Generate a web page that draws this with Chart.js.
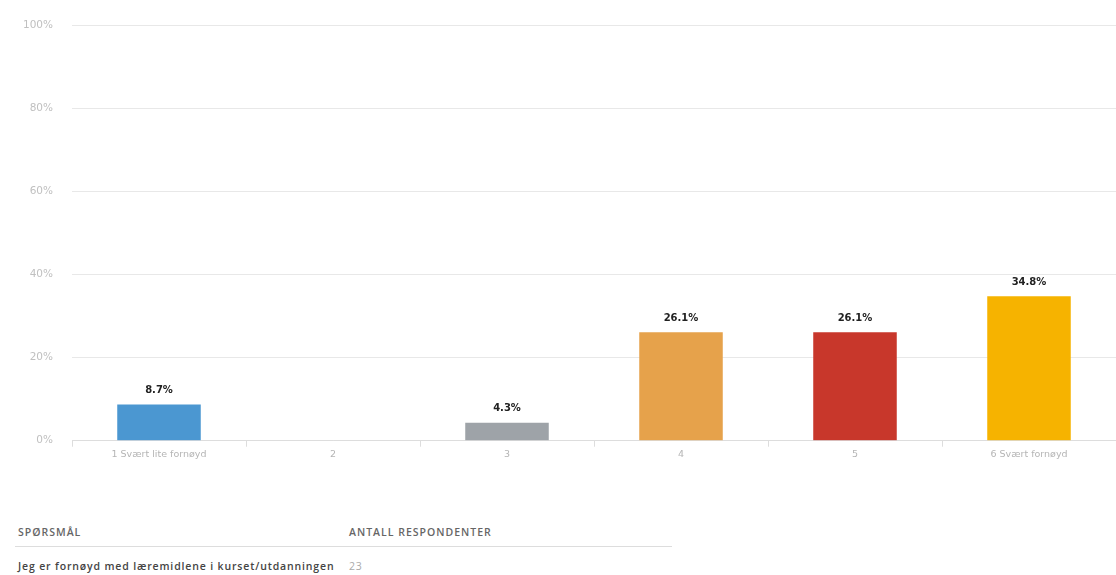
<!DOCTYPE html>
<html>
<head>
<meta charset="utf-8">
<script src="https://cdn.jsdelivr.net/npm/chart.js@4/dist/chart.umd.min.js"></script>
<style>
    body { margin: 0; background: #fff; font-family: "Open Sans", sans-serif; }
    #wrap { position: absolute; left: 0; top: 0; width: 1116px; height: 466px; }
    table { position: absolute; left: 15px; top: 521px; border-collapse: collapse; font-size: 10.5px; }
    th { text-align: left; font-weight: 600; color: #666; letter-spacing: 1px; padding: 4px 3px 7px 3px; border-bottom: 1px solid #ddd; }
    td { padding: 12px 3px 4px 3px; color: #444; font-weight: 600; letter-spacing: 0.85px; }
    td.num { color: #aaa; font-weight: 400; }
</style>
</head>
<body>
<div id="wrap"><canvas id="chart"></canvas></div>
<table>
    <tr><th style="width:325px">SPØRSMÅL</th><th style="width:320px">ANTALL RESPONDENTER</th></tr>
    <tr><td>Jeg er fornøyd med læremidlene i kurset/utdanningen</td><td class="num">23</td></tr>
</table>
<script>
// Data
const categories = ['1 Svært lite fornøyd', '2', '3', '4', '5', '6 Svært fornøyd'];
const values = [8.7, 0, 4.3, 26.1, 26.1, 34.8];
const barColors = ['#4b97d1', '#9aa0a6', '#9ea3a8', '#e6a24b', '#c8372b', '#f6b300'];

// Draw the value above each bar (skip empty ones)
const valueLabels = {
    id: 'valueLabels',
    afterDatasetsDraw(chart) {
        const ctx = chart.ctx;
        const meta = chart.getDatasetMeta(0);
        ctx.save();
        ctx.font = 'bold 10px "DejaVu Sans", sans-serif';
        ctx.fillStyle = '#222';
        ctx.textAlign = 'center';
        ctx.textBaseline = 'bottom';
        meta.data.forEach((bar, i) => {
            if (values[i] > 0) {
                ctx.fillText(values[i].toFixed(1) + '%', bar.x, bar.y - 9);
            }
        });
        ctx.restore();
    }
};

new Chart(document.getElementById('chart'), {
    type: 'bar',
    data: {
        labels: categories,
        datasets: [{
            data: values,
            backgroundColor: barColors,
            barPercentage: 0.48,
            categoryPercentage: 1,
        }]
    },
    options: {
        responsive: true,
        maintainAspectRatio: false,
        animation: false,
        layout: { padding: { top: 18, right: 0, left: 0, bottom: 0 } },
        plugins: { legend: { display: false }, tooltip: { enabled: false } },
        scales: {
            x: {
                grid: { offset: true, drawOnChartArea: false, tickLength: 6, color: '#ddd' },
                border: { color: '#ddd' },
                ticks: { color: '#b5b5b5', font: { size: 9.5, family: '"DejaVu Sans", sans-serif' }, padding: 2 },
            },
            y: {
                min: 0,
                max: 100,
                afterFit(scale) { scale.width = 72; },
                grid: { drawTicks: false, color: '#e8e8e8' },
                border: { display: false },
                ticks: {
                    stepSize: 20,
                    color: '#c0c0c0',
                    font: { size: 10.5, family: '"DejaVu Sans", sans-serif' },
                    padding: 19,
                    callback: (v) => v + '%',
                },
            }
        }
    },
    plugins: [valueLabels],
});
</script>
</body>
</html>
